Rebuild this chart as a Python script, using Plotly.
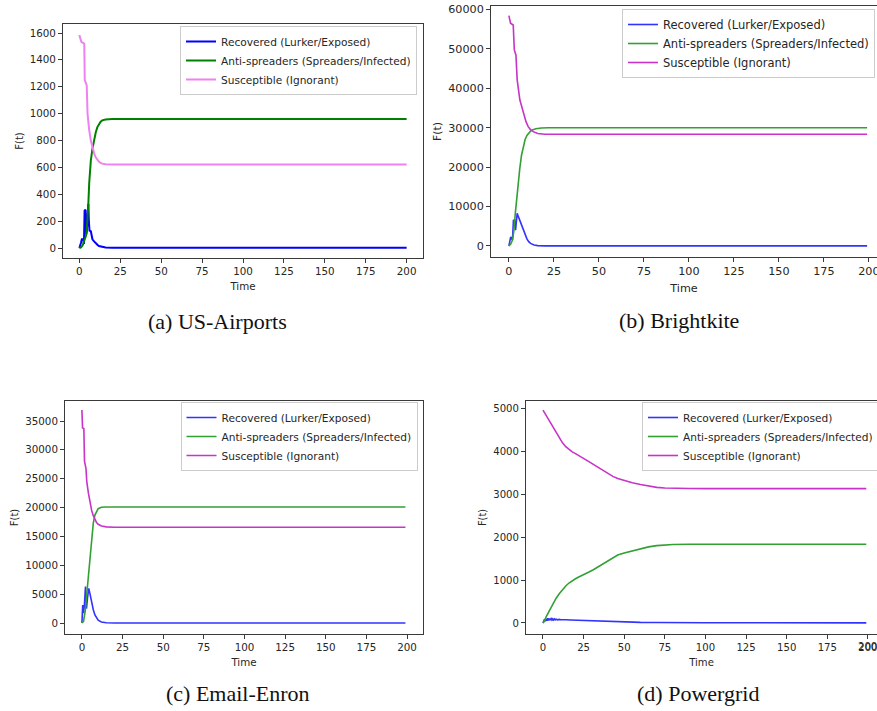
import plotly.graph_objects as go

W, H = 877, 711

SERIES_NAMES = ["Recovered (Lurker/Exposed)", "Anti-spreaders (Spreaders/Infected)", "Susceptible (Ignorant)"]
CAPTIONS = ["(a) US-Airports", "(b) Brightkite", "(c) Email-Enron", "(d) Powergrid"]
TIME_TICKS = [0, 25, 50, 75, 100, 125, 150, 175, 200]

# ---------------- (a) US-Airports ----------------
a_rec_t = [0, 0.5, 1, 1.5, 2.5, 2.8, 3.2, 3.8, 4.2, 4.6, 5.0, 5.5, 5.8, 6.2, 7, 7.5, 8, 9, 10, 11, 12, 14, 16, 20, 200]
a_rec_v = [0, 15, 40, 65, 65, 30, 280, 285, 100, 130, 300, 330, 200, 130, 125, 90, 65, 50, 35, 25, 15, 8, 4, 3, 3]
a_anti_t = [0, 1, 2, 3, 4, 4.5, 5, 5.5, 6, 6.5, 7, 8, 9, 10, 11, 12, 13, 14, 16, 20, 200]
a_anti_v = [0, 5, 20, 50, 90, 130, 200, 330, 480, 580, 650, 740, 810, 860, 900, 925, 940, 950, 957, 960, 960]
a_sus_t = [0, 0.7, 1.2, 2.5, 3, 3.3, 4, 4.5, 5, 5.5, 6, 7, 8, 9, 10, 11, 12, 13, 14, 16, 20, 200]
a_sus_v = [1585, 1560, 1535, 1525, 1520, 1250, 1230, 1210, 1000, 910, 880, 800, 745, 705, 675, 655, 642, 634, 628, 624, 622, 622]

# ---------------- (b) Brightkite ----------------
b_rec_t = [0, 0.5, 1, 1.5, 2, 2.5, 3.2, 3.7, 4, 4.6, 5.2, 6, 7, 8, 9, 10, 11, 12, 14, 16, 20, 199]
b_rec_v = [0, 1200, 2300, 1800, 1600, 6500, 6600, 4000, 5000, 8300, 7500, 6600, 5500, 4000, 2800, 1800, 1100, 650, 250, 100, 30, 30]
b_anti_t = [0, 1, 2, 2.8, 3.5, 4.2, 5, 6, 7, 8, 9, 10, 11, 12, 13, 15, 18, 22, 199]
b_anti_v = [0, 500, 1500, 4000, 8000, 11500, 15000, 19500, 23000, 25500, 27000, 28000, 28700, 29100, 29400, 29700, 29900, 29950, 29950]
b_sus_t = [0, 0.9, 2.4, 3, 3.9, 4.6, 6.1, 8, 9.5, 10.7, 12, 13.5, 16, 20, 199]
b_sus_v = [58400, 56450, 56000, 49700, 48400, 42100, 37000, 33600, 31500, 30240, 29500, 28980, 28500, 28300, 28300]

# ---------------- (c) Email-Enron ----------------
c_rec_t = [0, 0.5, 1, 1.5, 2.2, 2.8, 3.5, 4.2, 5, 6, 7, 8, 9, 10, 12, 15, 20, 199]
c_rec_v = [0, 3100, 1700, 3000, 6300, 2500, 4500, 6000, 5000, 3500, 2300, 1400, 800, 480, 180, 50, 10, 10]
c_anti_t = [0, 1, 2, 3, 4, 5, 6, 7, 8, 9, 10, 12, 15, 199]
c_anti_v = [0, 300, 2000, 5000, 8500, 12000, 15000, 17300, 18700, 19400, 19800, 20050, 20100, 20100]
c_sus_t = [0, 0.4, 1.2, 1.6, 2.5, 3, 4, 5, 6, 7, 8, 9, 10, 12, 15, 20, 199]
c_sus_v = [36900, 33800, 33700, 28000, 26800, 24500, 22500, 20800, 19500, 18600, 17900, 17400, 17100, 16800, 16650, 16600, 16600]

# ---------------- (d) Powergrid ----------------
d_rec_t = [0, 1, 1.5, 2, 2.5, 3, 3.5, 4, 4.5, 5, 5.5, 6, 6.5, 7, 7.5, 8, 9, 10, 11, 12, 14, 17, 20, 25, 30, 35, 40, 45, 50, 55, 60, 70, 80, 100, 199]
d_rec_v = [0, 90, 40, 100, 50, 110, 60, 105, 65, 100, 70, 95, 70, 92, 72, 88, 74, 84, 76, 80, 75, 70, 65, 58, 55, 52, 48, 38, 25, 18, 14, 10, 7, 5, 3]
d_anti_t = [0, 1, 2, 4, 6, 8, 10, 12, 14, 16, 18, 20, 22, 25, 28, 31, 34, 37, 40, 43, 46, 50, 55, 60, 65, 70, 75, 80, 90, 199]
d_anti_v = [0, 50, 150, 300, 440, 570, 680, 780, 860, 930, 985, 1030, 1070, 1120, 1180, 1240, 1310, 1380, 1450, 1520, 1580, 1630, 1680, 1730, 1770, 1800, 1815, 1825, 1830, 1830]
d_sus_t = [0, 2, 4, 6, 8, 10, 12, 14, 16, 18, 20, 22, 25, 28, 31, 34, 37, 40, 43, 46, 50, 55, 60, 65, 70, 75, 80, 90, 100, 199]
d_sus_v = [4950, 4820, 4700, 4560, 4430, 4300, 4190, 4100, 4030, 3980, 3940, 3890, 3830, 3760, 3690, 3620, 3540, 3470, 3410, 3360, 3310, 3260, 3220, 3180, 3155, 3140, 3132, 3128, 3125, 3125]

panels = [
    dict(data=[(a_rec_t, a_rec_v), (a_anti_t, a_anti_v), (a_sus_t, a_sus_v)],
         colors=["#0000ff", "#008000", "#ee82ee"], lw=2.0,
         px=(63, 423), py=(24, 258), xr=[-10, 210], yr=[-74, 1667],
         dtick=200, fs=10.3, lfs=10.6, legend=dict(x=417, y=26, xanchor="right"),
         cap=(217, 321), mirror_y=True, edge_label=False),
    dict(data=[(b_rec_t, b_rec_v), (b_anti_t, b_anti_v), (b_sus_t, b_sus_v)],
         colors=["#3333ff", "#33a033", "#c833c8"], lw=1.6,
         px=(491, 877), py=(6, 257), xr=[-9.95, 204.5], yr=[-2790, 60820],
         dtick=10000, fs=11.2, lfs=11.5, legend=dict(x=875, y=9, xanchor="right"),
         cap=(679, 320), mirror_y=False, edge_label=False),
    dict(data=[(c_rec_t, c_rec_v), (c_anti_t, c_anti_v), (c_sus_t, c_sus_v)],
         colors=["#3333ff", "#33a033", "#c833c8"], lw=1.6,
         px=(65, 423), py=(401, 634), xr=[-10.4, 209.8], yr=[-1906, 38466],
         dtick=5000, fs=10.3, lfs=10.6, legend=dict(x=417.5, y=402, xanchor="right"),
         cap=(238, 693), mirror_y=True, edge_label=False),
    dict(data=[(d_rec_t, d_rec_v), (d_anti_t, d_anti_v), (d_sus_t, d_sus_v)],
         colors=["#3333ff", "#33a033", "#c833c8"], lw=1.6,
         px=(526, 877), py=(401, 634), xr=[-10.46, 205.6], yr=[-256, 5163],
         dtick=1000, fs=10.1, lfs=10.6, legend=dict(x=642, y=402, xanchor="left"),
         cap=(698, 693), mirror_y=False, edge_label=True),
]


def fx(px):
    return px / W


def fy(py):
    return 1 - py / H


fig = go.Figure()
layout = dict(
    width=W, height=H,
    margin=dict(l=0, r=0, t=0, b=0, autoexpand=False),
    paper_bgcolor="white", plot_bgcolor="white",
    font=dict(family="DejaVu Sans", color="#222222"),
    annotations=[],
)

FRAME = "#3a3a3a"
TXT = "#262626"
for i, p in enumerate(panels):
    k = "" if i == 0 else str(i + 1)
    leg = "legend" + k
    for (t, v), name, col in zip(p["data"], SERIES_NAMES, p["colors"]):
        fig.add_trace(go.Scatter(
            x=t, y=v, mode="lines", name=name,
            line=dict(color=col, width=p["lw"]),
            xaxis="x" + k, yaxis="y" + k, legend=leg, showlegend=True,
        ))
    x0, x1 = p["px"]
    y0, y1 = p["py"]
    layout["xaxis" + k] = dict(
        domain=[max(0, fx(x0)), min(1, fx(x1))], anchor="y" + k, range=p["xr"],
        tickmode="array", tickvals=TIME_TICKS, ticktext=[str(v) for v in TIME_TICKS],
        showgrid=False, zeroline=False,
        showline=True, linecolor=FRAME, linewidth=1, mirror=True,
        ticks="outside", ticklen=4, tickcolor=FRAME, tickwidth=1,
        tickfont=dict(size=p["fs"], color=TXT), ticklabeloverflow="allow",
        title=dict(text="Time", font=dict(size=p["fs"], color=TXT), standoff=6),
        automargin=False,
    )
    layout["yaxis" + k] = dict(
        domain=[max(0, fy(y1)), min(1, fy(y0))], anchor="x" + k, range=p["yr"],
        tickmode="linear", tick0=0, dtick=p["dtick"], tickformat="d",
        showgrid=False, zeroline=False,
        showline=True, linecolor=FRAME, linewidth=1, mirror=p["mirror_y"],
        ticks="outside", ticklen=4, tickcolor=FRAME, tickwidth=1,
        tickfont=dict(size=p["fs"], color=TXT), ticklabeloverflow="allow",
        title=dict(text="F(t)", font=dict(size=p["fs"] * 0.97, color=TXT), standoff=4),
        automargin=False,
    )
    lg = p["legend"]
    layout[leg] = dict(
        x=fx(lg["x"]), y=fy(lg["y"]), xanchor=lg["xanchor"], yanchor="top",
        bgcolor="rgba(255,255,255,0.85)", bordercolor="#cccccc", borderwidth=1,
        font=dict(size=p["lfs"], color=TXT, family="DejaVu Sans"),
        tracegroupgap=0,
    )
    cx, cy = p["cap"]
    layout["annotations"].append(dict(
        text=CAPTIONS[i], x=fx(cx), y=fy(cy), xref="paper", yref="paper",
        xanchor="center", yanchor="middle", showarrow=False,
        font=dict(family="Liberation Serif", size=22, color="#111111"),
    ))
    if p["edge_label"]:
        # the last tick label sits on the page edge; plotly drops it, so place it at the tick
        last = TIME_TICKS[-1]
        layout["annotations"].append(dict(
            text=str(last), x=last, xref="x" + k, y=fy(y1 + 5), yref="paper",
            xanchor="center", yanchor="top", showarrow=False,
            font=dict(family="DejaVu Sans", size=p["fs"], color=TXT),
        ))

fig.update_layout(**layout)
# remove the default 8px body margin so the figure sits at the window's top-left corner
fig.write_html("out.html", config={"displayModeBar": False},
               post_script="document.body.style.margin='0px';")
